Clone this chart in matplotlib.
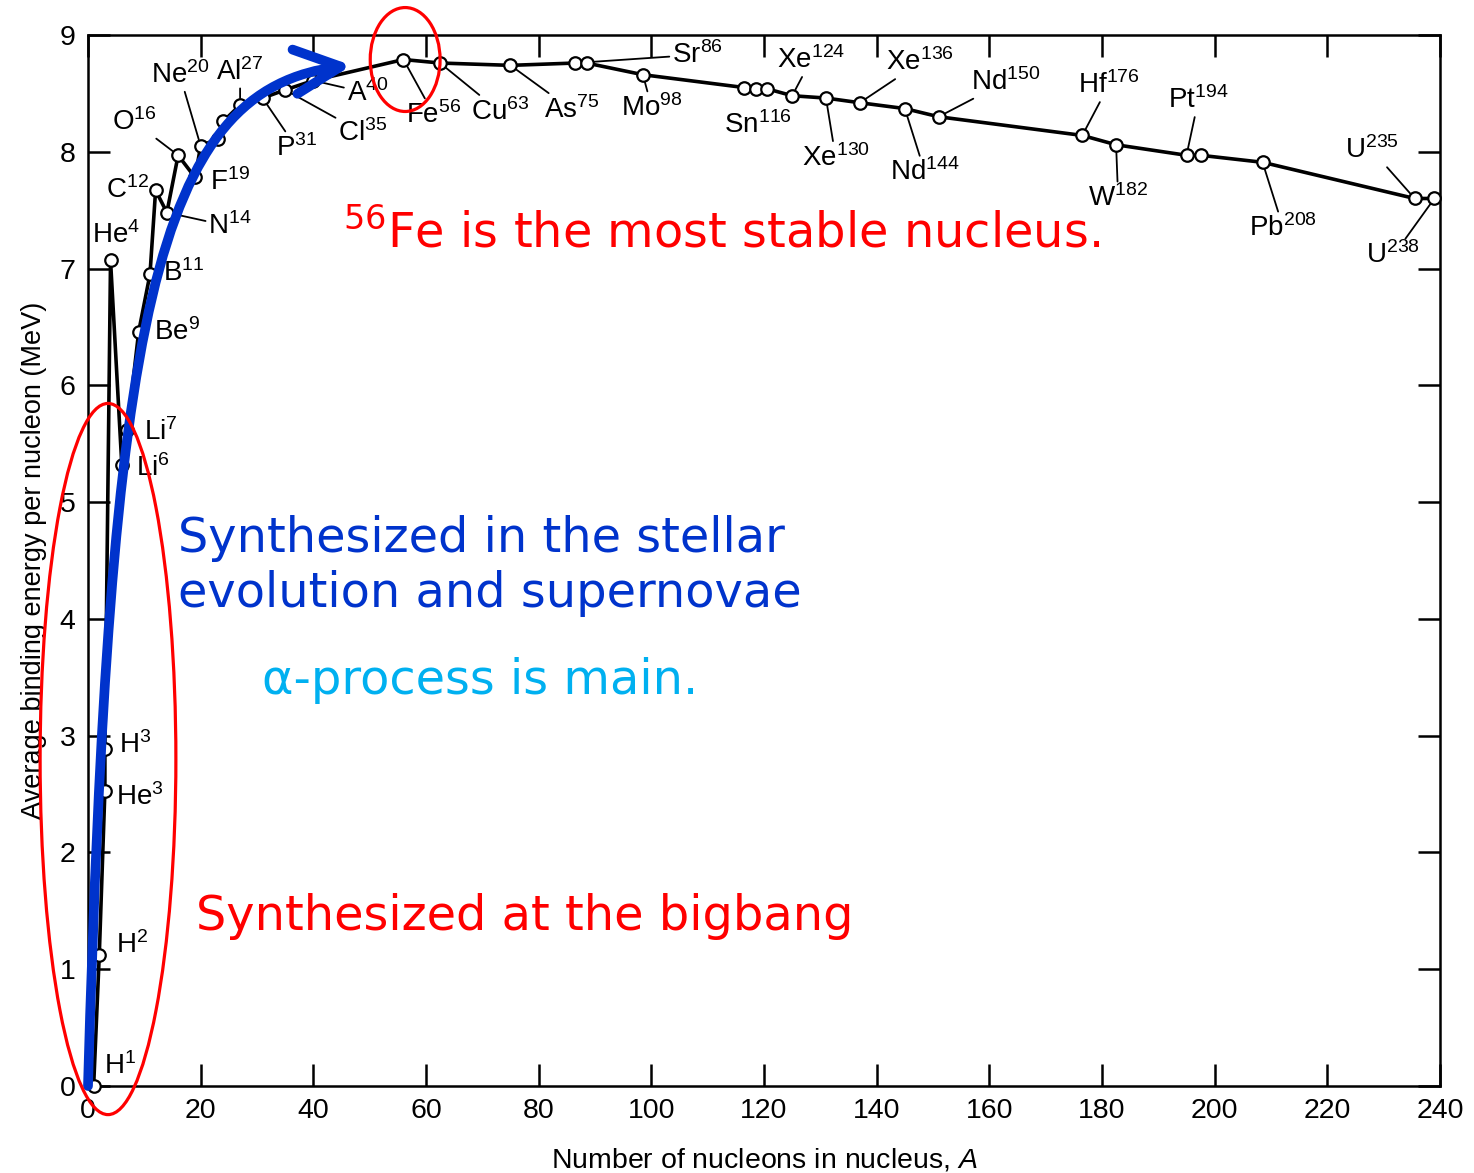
import matplotlib
matplotlib.use("Agg")
import matplotlib.pyplot as plt
from matplotlib.patches import Ellipse, FancyArrowPatch
from matplotlib.path import Path

# average binding energy per nucleon
a_vals = [1, 2, 3, 3, 4, 6, 7, 9, 11, 12, 14, 16, 19, 20, 23, 24, 27, 31, 35, 40,
          56, 62.5, 75, 86.5, 88.5, 98.5, 116.5, 118.5, 120.5, 125, 131, 137, 145, 151,
          176.5, 182.5, 195, 197.5, 208.5, 235.5, 239]
be_vals = [0.0, 1.12, 2.53, 2.89, 7.07, 5.32, 5.62, 6.46, 6.95, 7.67, 7.48, 7.97, 7.78,
           8.05, 8.11, 8.26, 8.40, 8.46, 8.53, 8.61, 8.79, 8.76, 8.74, 8.76, 8.76, 8.66,
           8.55, 8.54, 8.54, 8.48, 8.46, 8.42, 8.37, 8.30, 8.14, 8.06, 7.97, 7.97, 7.91,
           7.60, 7.60]
symbols = ["H", "H", "He", "H", "He", "Li", "Li", "Be", "B", "C", "N", "O", "F", "Ne",
           "", "", "Al", "P", "Cl", "A", "Fe", "Cu", "As", "Sr", "", "Mo", "Sn", "", "",
           "Xe", "Xe", "Xe", "Nd", "Nd", "Hf", "W", "Pt", "", "Pb", "U", "U"]
label_mass = [1, 2, 3, 3, 4, 6, 7, 9, 11, 12, 14, 16, 19, 20, 0, 0, 27, 31, 35, 40,
              56, 63, 75, 86, 0, 98, 116, 0, 0, 124, 130, 136, 144, 150, 176, 182,
              194, 0, 208, 235, 238]

# label placement (offset of label centre from the point, in points) and leader lines
label_offsets = [(19, 14), (23.5, 7), (25, -5), (22, 2.5), (4, 18), (22.5, -2.5), (24, -2),
                 (27.5, 0), (24.5, 1), (-20.5, 0), (45.5, -10), (-31.5, 24), (25, -3.5),
                 (-15, 51), (0, 0), (0, 0), (0, 24), (24.5, -36), (56, -31), (39, -9),
                 (22, -40), (43, -35), (44, -32), (88, 6), (0, 0), (6.5, -24), (9.5, -27),
                 (0, 0), (0, 0), (13.5, 25.5), (7, -43), (43.5, 29), (14.5, -46), (48, 25),
                 (19, 36), (1.5, -38.5), (8.5, 39.5), (0, 0), (15, -47.5), (-30.5, 34.5),
                 (-29.5, -41)]
leaders = [False, False, False, False, False, False, False, False, False, False, True, True,
           False, True, False, False, True, True, True, True, True, True, True, True, False,
           True, False, False, False, True, True, True, True, True, True, True, True, False,
           True, True, True]

x_ticks = list(range(0, 241, 20))
y_ticks = list(range(0, 10))

RED = "#ff0000"
BLUE = "#0033cc"
CYAN = "#00b0f0"

plt.rcParams["font.family"] = ["Liberation Sans", "DejaVu Sans"]
plt.rcParams["mathtext.fontset"] = "custom"
plt.rcParams["mathtext.rm"] = "Liberation Sans"
plt.rcParams["mathtext.it"] = "Liberation Sans:italic"

fig = plt.figure(figsize=(14.74, 11.73), dpi=100)
ax = fig.add_axes([88 / 1474, 87 / 1173, 1352 / 1474, 1051 / 1173])

ax.plot(a_vals, be_vals, color="black", lw=2.6, zorder=2)
ax.plot(a_vals, be_vals, "o", ms=9, mfc="white", mec="black", mew=1.6, zorder=4,
        clip_on=False)

for a, be, sym, m, off, lead in zip(a_vals, be_vals, symbols, label_mass, label_offsets, leaders):
    if not sym:
        continue
    txt = sym + r"$\mathregular{^{%d}}$" % m
    props = dict(arrowstyle="-", lw=1.3, color="black", shrinkA=0, shrinkB=5) if lead else None
    ax.annotate(txt, xy=(a, be), xytext=off, textcoords="offset points",
                ha="center", va="center", fontsize=20, arrowprops=props, zorder=3)

ax.set_xlim(0, 240)
ax.set_ylim(0, 9)
ax.set_xticks(x_ticks)
ax.set_yticks(y_ticks)
ax.tick_params(direction="in", length=16, width=1.8, top=True, right=True,
               labelsize=20.5, pad=9)
for sp in ax.spines.values():
    sp.set_linewidth(1.8)

ax.set_xlabel(r"Number of nucleons in nucleus, $\mathit{A}$", fontsize=20.5, labelpad=16)
ax.set_ylabel("Average binding energy per nucleon (MeV)", fontsize=19.5, labelpad=9)

# highlights
ax.add_patch(Ellipse((56.3, 8.79), 12.4, 0.89, fill=False, ec=RED, lw=2.3,
                     clip_on=False, zorder=6))
ax.add_patch(Ellipse((3.55, 2.80), 24.1, 6.09, fill=False, ec=RED, lw=2.3,
                     clip_on=False, zorder=6))

arrow_path = Path([(0.0, 0.0), (3.91, 6.56), (11.5, 8.55), (46.8, 8.74)],
                  [Path.MOVETO, Path.CURVE4, Path.CURVE4, Path.CURVE4])
ax.add_patch(FancyArrowPatch(path=arrow_path, arrowstyle="->,head_length=33,head_width=16",
                             mutation_scale=1, lw=7, color=BLUE, capstyle="round",
                             joinstyle="round", clip_on=False, zorder=5))

note_font = dict(family="DejaVu Sans", fontsize=34.5, va="baseline")
ax.text(45.3, 7.18, r"$\mathregular{^{56}}$Fe is the most stable nucleus.", color=RED, **note_font)
ax.text(16.0, 4.57, "Synthesized in the stellar", color=BLUE, **note_font)
ax.text(16.0, 4.10, "evolution and supernovae", color=BLUE, **note_font)
ax.text(30.9, 3.36, "α-process is main.", color=CYAN, **note_font)
ax.text(19.2, 1.34, "Synthesized at the bigbang", color=RED, **note_font)

fig.savefig("out.png", dpi=100)
